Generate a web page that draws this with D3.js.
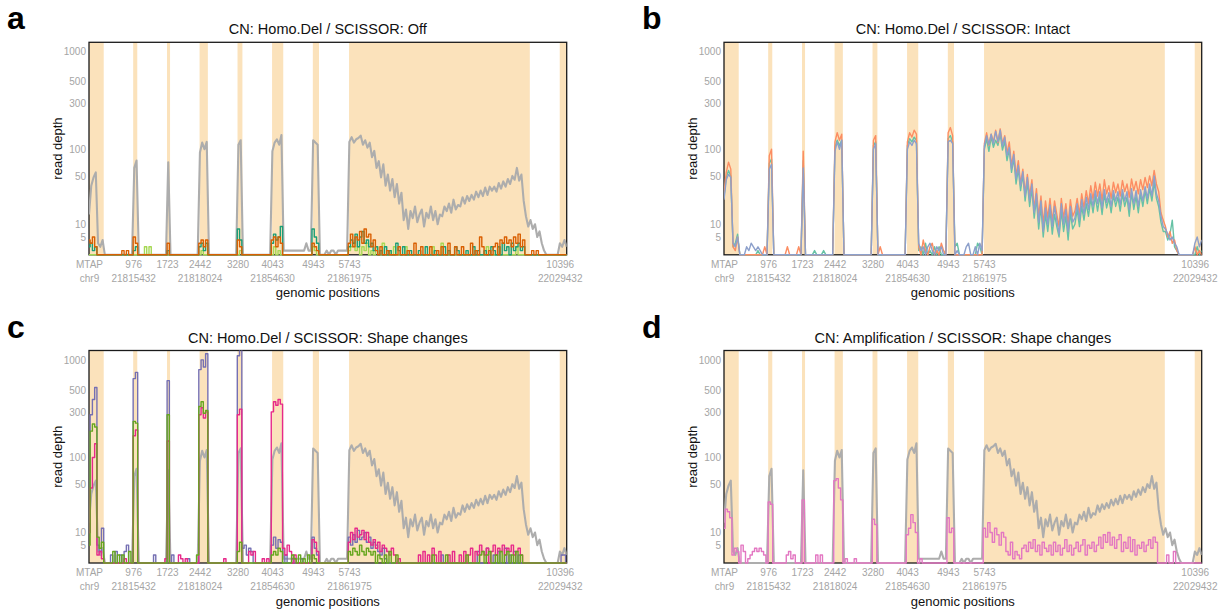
<!DOCTYPE html>
<html><head><meta charset="utf-8">
<script src="https://cdn.jsdelivr.net/npm/d3@7"></script>
<style>
body{margin:0;background:#fff}
svg{display:block;font-family:"Liberation Sans",Arial,Helvetica,sans-serif}
</style>
</head><body>
<svg id="chart" width="1225" height="613"></svg>
<script>
// ---------- data ----------
const STEP = 50; // spacing of read-depth samples along transcript coordinate
const X_MAX = 10550;
const Y_MAX = 1240;
const exonStarts = [0, 976, 1723, 2442, 3280, 4043, 4943, 5743, 10396];
const exonEnds   = [325, 1066, 1790, 2625, 3388, 4290, 5080, 9735, 10550];
const tickPos   = [0, 976, 1723, 2442, 3280, 4043, 4943, 5743, 10396];
const tickLine1 = ["MTAP","976","1723","2442","3280","4043","4943","5743","10396"];
const tickLine2 = ["chr9","21815432","","21818024","","21854630","","21861975","22029432"];
const yTicks = [5, 10, 50, 100, 300, 500, 1000];
const titles = ["CN: Homo.Del / SCISSOR: Off","CN: Homo.Del / SCISSOR: Intact",
                "CN: Homo.Del / SCISSOR: Shape changes","CN: Amplification / SCISSOR: Shape changes"];
const letters = ["a","b","c","d"];

// reference (gray) read depth
const grayDepth = [
 15,38,48,55,3,2,4,
 0,0,0,0,0,0,0,0,0,0,0,0,0,
 62,75,
 0,0,0,0,0,0,0,0,0,0,0,0,0,
 72,
 0,0,0,0,0,0,0,0,0,0,0,0,0,
 92,118,100,120,
 0,0,0,0,0,0,0,0,0,0,0,0,0,
 112,125,
 0,0,0,0,0,0,0,0,0,0,0,0,0,
 95,118,128,112,142,
 1,1,1,1,1,1,1,1,1,1,3,1,1,
 125,118,112,
 0,0,0,1,0,1,1,0,1,1,1,1,1,
 120,135,118,128,132,140,112,125,104,118,
 82,96,62,74,48,68,38,52,33,46,
 27,40,22,31,12,18,8,17,13,20,
 11,15,18,9,16,13,20,12,17,10,
 15,14,20,17,22,16,25,18,21,20,
 27,22,28,24,29,25,32,27,33,28,
 36,29,37,33,37,32,41,35,43,37,
 46,40,50,45,62,44,52,24,14,9,
 12,8,10,5,7,3,1,0,0,0,0,0,0,
 3,2,4,2
];

// panel a series
const offDarkGreen = [
 2,3,1,2,0,0,0,
 0,0,0,0,0,0,0,0,0,0,0,0,0,
 1,2,
 0,0,0,0,0,0,0,0,0,0,0,0,0,
 1,
 0,0,0,0,0,0,0,0,0,0,0,0,0,
 2,3,1,3,
 0,0,0,0,0,0,0,0,0,0,0,0,0,
 8,4,
 0,0,0,0,0,0,0,0,0,0,0,0,0,
 3,6,4,5,9,
 0,0,0,0,0,0,0,0,0,0,0,0,0,
 8,5,3,
 0,0,0,0,0,0,0,0,0,0,0,0,0,
 2,4,3,6,2,5,7,3,4,2,
 3,1,2,0,1,0,2,0,1,0,
 0,3,1,0,2,0,0,1,0,0,
 0,1,0,0,2,0,0,0,1,0,
 0,0,2,0,1,0,0,2,1,0,
 0,0,1,0,0,2,0,1,0,0,
 1,0,0,2,1,0,2,0,3,1,
 2,0,3,1,2,3,1,2,0,0,
 0,0,0,0,0,0,0,0,0,0,0,0,0,
 0,0,0,0
];
const offOrange = [
 4,3,5,2,0,0,0,
 0,0,0,0,0,0,0,0,1,0,1,0,0,
 5,3,
 0,0,0,0,0,0,0,0,0,0,0,0,0,
 3,
 0,0,0,0,0,0,0,0,0,0,0,0,0,
 3,4,2,4,
 0,0,0,0,0,0,0,0,0,0,0,0,0,
 4,2,
 0,0,0,0,0,0,0,0,0,0,0,0,0,
 4,5,2,5,3,
 0,0,0,0,0,0,0,0,0,0,0,0,0,
 3,2,1,
 0,0,0,0,0,0,0,0,0,0,0,0,0,
 3,6,2,5,4,7,3,8,5,6,
 2,4,1,0,2,0,0,1,0,0,
 0,0,2,0,0,0,1,0,0,3,
 0,0,2,0,0,0,2,0,0,1,
 0,2,0,0,3,0,0,2,0,0,
 2,0,0,0,3,0,1,0,5,2,
 0,0,1,0,2,3,0,4,3,5,
 3,4,2,5,3,6,2,4,0,0,
 0,1,0,1,0,0,0,0,0,0,0,0,0,
 0,0,0,0
];
const offLightGreen = [
 0,0,0,0,0,0,0,
 0,0,0,0,0,0,0,0,0,0,0,0,0,
 0,0,
 0,0,0,2,0,2,0,0,0,0,0,0,0,
 0,
 0,0,0,0,0,0,0,0,0,0,0,0,0,
 0,1,0,0,
 0,0,0,0,0,0,0,0,0,0,0,0,0,
 0,1,
 0,0,0,0,0,0,0,0,0,0,0,0,0,
 0,2,0,1,0,
 0,0,0,0,0,0,0,0,0,0,0,0,0,
 2,1,0,
 0,0,0,0,0,0,0,0,0,0,0,0,0,
 1,2,3,1,2,0,2,1,3,0,
 1,0,2,0,0,3,0,0,1,0,
 2,0,0,0,0,2,0,0,0,0,
 0,0,0,0,0,0,0,2,0,0,
 0,3,0,0,0,0,0,0,0,0,
 0,0,0,0,0,0,0,0,0,0,
 0,2,0,0,0,0,2,0,0,0,
 0,0,0,0,2,0,0,0,0,0,
 0,0,0,0,0,0,0,0,0,0,0,0,0,
 0,0,0,0
];

// panel b series
const intactOrange = [
 30,55,72,60,2,1,5,
 0,0,0,0,0,0,0,0,0,0,0,2,0,
 85,100,
 0,0,0,0,0,0,2,0,0,0,0,2,0,
 95,
 0,0,0,0,0,0,0,0,0,0,0,0,0,
 120,150,125,145,
 0,0,0,0,0,0,0,0,0,0,0,0,0,
 125,140,
 0,2,0,0,0,0,0,0,0,0,0,0,0,
 120,150,135,160,145,
 2,0,4,1,0,2,3,0,1,0,3,1,0,
 150,170,140,
 0,0,0,0,0,0,0,0,0,0,0,0,0,
 115,150,110,145,120,160,118,165,115,140,
 90,120,65,95,50,75,40,60,30,52,
 28,45,18,35,14,28,10,24,13,26,
 11,24,15,9,26,13,22,10,25,14,
 17,26,15,30,19,33,22,38,25,42,
 28,40,24,45,30,38,26,42,31,40,
 28,44,32,40,27,46,33,43,30,45,
 34,48,36,50,38,58,40,32,16,12,
 9,5,7,3,4,1,0,0,0,0,0,0,0,
 2,0,1,0
];
const intactGreen = [
 28,48,58,50,2,3,6,
 0,0,0,0,0,0,0,0,1,0,0,0,0,
 70,78,
 0,0,0,0,0,0,0,0,0,0,0,0,0,
 75,
 0,0,0,0,1,0,0,0,1,0,0,0,0,
 105,125,110,125,
 0,0,0,0,0,0,0,0,0,0,0,0,0,
 110,120,
 0,0,0,0,0,0,0,0,0,0,0,0,0,
 110,130,120,135,125,
 1,2,0,3,0,1,0,2,0,2,0,0,1,
 130,140,120,
 2,3,0,0,0,0,0,0,0,0,3,2,0,
 100,130,95,135,105,125,110,145,98,122,
 75,100,55,80,40,60,33,52,24,42,
 20,35,13,26,8,20,5,15,7,18,
 6,15,9,5,17,7,14,4,16,8,
 10,18,9,20,12,22,14,26,16,28,
 17,28,15,30,19,26,16,29,20,27,
 17,30,20,27,14,31,18,28,16,30,
 20,33,22,35,24,42,26,20,11,7,
 7,4,6,12,2,1,0,0,0,0,0,0,0,
 0,2,0,1
];
const intactBlue = [
 25,45,52,48,3,2,5,
 0,0,0,2,1,3,2,1,2,1,0,0,0,
 60,68,
 0,0,0,0,0,0,0,0,0,0,0,0,0,
 62,
 0,0,0,0,0,0,0,0,0,0,0,0,0,
 95,120,100,125,
 0,0,0,0,0,0,0,0,0,0,0,0,0,
 100,115,
 0,0,0,0,0,0,0,0,0,0,0,0,0,
 100,120,110,125,115,
 3,1,2,0,2,3,1,0,2,1,2,0,0,
 120,125,115,
 0,1,0,0,0,2,3,0,0,2,0,3,1,
 108,140,112,145,115,155,120,160,108,135,
 85,105,60,88,46,66,38,56,28,48,
 24,40,16,30,11,24,7,19,10,21,
 9,20,12,6,22,10,18,7,20,11,
 13,22,12,25,15,27,18,30,20,33,
 22,32,19,34,23,31,20,33,24,32,
 21,34,24,32,18,35,22,33,20,34,
 24,37,26,40,28,50,30,24,14,9,
 8,6,4,5,3,2,0,0,0,0,0,0,0,
 3,5,2,4
];

// panel c series
const shapePurple = [
 10,280,400,530,5,3,12,
 0,0,0,2,0,3,0,2,0,3,5,0,0,
 650,750,
 0,0,0,0,0,0,0,2,0,0,0,0,0,
 620,
 0,2,0,0,0,0,0,0,1,0,0,0,0,
 800,1000,850,1150,
 0,0,0,0,0,0,0,0,0,0,0,0,0,
 1100,1300,
 4,5,2,4,3,0,0,0,0,0,0,0,0,
 5,8,4,7,6,
 0,2,0,0,1,0,0,0,1,0,0,0,0,
 8,4,2,
 0,0,0,0,0,0,0,0,0,0,0,0,0,
 8,5,9,6,11,7,8,10,6,8,
 4,6,5,3,2,4,1,0,0,0,
 0,0,0,0,0,0,0,0,0,0,
 0,0,0,0,0,0,0,0,0,0,
 0,2,0,0,0,0,0,0,0,0,
 0,0,0,0,0,0,0,3,0,0,
 0,4,0,0,2,0,3,0,0,4,
 0,2,0,3,0,2,0,0,0,0,
 0,0,0,0,0,0,0,0,0,0,0,0,0,
 0,2,2,0
];
const shapeMagenta = [
 10,45,100,140,2,3,1,
 0,0,0,0,0,0,0,0,0,1,0,0,0,
 170,195,
 0,0,0,0,0,0,0,0,0,0,0,0,1,
 150,
 0,0,0,0,2,1,0,1,0,0,0,0,0,
 280,330,260,300,
 0,0,0,0,0,0,0,1,0,0,0,0,0,
 280,320,
 0,0,0,3,2,3,0,0,0,1,0,1,0,
 300,380,350,400,360,
 4,2,5,3,0,2,0,0,0,0,0,0,0,
 7,6,3,
 0,0,0,0,0,0,0,0,0,0,0,0,0,
 6,10,7,12,8,9,11,7,10,6,
 5,7,4,6,3,5,4,3,2,4,
 2,0,1,0,0,0,0,0,0,0,
 0,2,0,3,0,2,0,4,2,0,
 3,0,0,0,2,0,3,0,0,2,
 0,3,0,2,4,0,3,2,5,3,
 2,4,0,3,5,2,4,3,5,2,
 4,3,5,2,3,4,2,0,0,0,
 0,0,0,0,0,0,0,0,0,0,0,0,0,
 0,0,0,0
];
const shapeGreen = [
 5,190,225,210,8,4,6,
 0,0,0,0,3,0,2,0,2,0,0,3,0,
 240,230,
 0,0,0,0,0,0,0,0,0,0,0,0,0,
 280,
 0,0,0,0,0,0,0,0,0,0,0,0,2,
 340,380,290,310,
 0,0,0,0,0,0,0,0,0,0,0,0,0,
 3,6,
 0,0,0,0,0,0,0,0,0,0,0,0,0,
 2,3,2,4,3,
 0,0,0,0,2,1,0,2,0,1,0,2,0,
 2,1,0,
 0,0,0,0,0,0,0,0,0,0,0,0,0,
 3,2,4,3,2,5,3,2,4,3,
 2,3,0,2,1,0,2,0,3,0,
 0,2,0,0,0,0,0,0,0,0,
 0,0,0,0,0,0,0,2,0,0,
 0,0,0,2,0,0,0,0,0,0,
 0,0,2,0,0,0,0,0,2,3,
 0,2,3,0,0,2,0,3,0,2,
 3,0,2,0,3,0,2,0,0,0,
 0,0,0,0,0,0,0,0,0,0,0,0,0,
 0,0,0,0
];

// panel d series
const ampPink = [
 12,24,22,18,2,4,3,
 0,5,3,0,1,2,3,4,3,4,3,2,0,
 30,28,
 0,0,0,0,0,0,2,3,1,2,0,0,0,
 32,
 0,0,0,0,0,2,0,2,0,0,0,0,0,
 55,58,45,32,
 0,1,0,0,0,1,0,0,0,0,0,0,0,
 17,14,
 0,0,0,0,0,0,0,0,0,0,0,0,0,
 9,12,20,15,10,
 0,1,0,0,0,0,0,0,0,0,0,0,0,
 18,10,12,
 0,0,0,0,0,0,0,0,0,0,0,0,0,
 12,8,15,10,6,12,9,5,10,8,
 3,2,6,1,3,2,1,4,5,3,
 6,4,7,3,5,2,6,4,3,5,
 2,6,3,5,2,4,7,3,5,2,
 4,6,3,5,7,2,5,4,6,3,
 5,8,4,9,6,10,5,8,4,7,
 9,3,6,4,8,3,7,2,5,4,
 6,3,5,7,4,8,6,0,0,0,
 0,2,0,0,3,0,0,0,0,0,0,0,0,
 0,0,0,0
];

// ---------- drawing ----------
const PW = 477.7, PH = 212.5;
const panelPos = [[89, 42.3], [724, 42.3], [89, 350.5], [724, 350.5]];
// [values, colour, width, curve]
const panelSeries = [
  [[grayDepth,"#adadad",2.1,"lin"],[offLightGreen,"#a6d854",1.4,"step"],[offDarkGreen,"#1b9e77",1.4,"step"],[offOrange,"#d95f02",1.4,"step"]],
  [[intactGreen,"#66c2a5",1.4,"lin"],[intactOrange,"#fc8d62",1.4,"lin"],[intactBlue,"#8da0cb",1.4,"lin"]],
  [[grayDepth,"#adadad",2.1,"lin"],[shapePurple,"#7570b3",1.4,"step"],[shapeMagenta,"#e7298a",1.4,"step"],[shapeGreen,"#66a61e",1.4,"step"]],
  [[grayDepth,"#adadad",2.1,"lin"],[ampPink,"#e377c2",1.4,"step"]]
];

const svg = d3.select("#chart");
const positions = d3.range(grayDepth.length).map(i => i * STEP);
const exons = exonStarts.map((s, i) => [s, exonEnds[i]]);
const tickColor = "#a5a5a5";

panelPos.forEach(([x0, y0], pi) => {
  const x = d3.scaleLinear().domain([0, X_MAX]).range([x0, x0 + PW]);
  const y = d3.scaleSymlog().constant(10).domain([0, Y_MAX]).range([y0 + PH, y0]);
  const g = svg.append("g");

  g.selectAll("rect.exon").data(exons).join("rect")
    .attr("class","exon")
    .attr("x", d => x(d[0])).attr("width", d => x(d[1]) - x(d[0]))
    .attr("y", y0).attr("height", PH)
    .attr("fill", "#fbe2bb");

  g.append("rect").attr("x", x0).attr("y", y0).attr("width", PW).attr("height", PH)
    .attr("fill", "none").attr("stroke", "#1a1a1a").attr("stroke-width", 1.3);

  const cid = "clip" + pi;
  svg.append("clipPath").attr("id", cid).append("rect")
    .attr("x", x0).attr("y", y0).attr("width", PW).attr("height", PH + 1.5);

  const lg = g.append("g").attr("clip-path", `url(#${cid})`);
  panelSeries[pi].forEach(([vals, color, w, c]) => {
    const line = d3.line().x((d, i) => x(positions[i])).y(d => y(d))
      .curve(c === "step" ? d3.curveStep : d3.curveLinear);
    lg.append("path").datum(vals).attr("d", line)
      .attr("fill", "none").attr("stroke", color).attr("stroke-width", w)
      .attr("stroke-linejoin", "round");
  });

  const ya = g.append("g").attr("transform", `translate(${x0},0)`)
    .call(d3.axisLeft(y).tickValues(yTicks).tickSize(0).tickPadding(3).tickFormat(d3.format("d")));
  ya.select(".domain").remove();
  ya.selectAll("text").attr("fill", tickColor).attr("font-size", 10)
    .attr("font-family", '"Liberation Sans",Arial,sans-serif');

  const xa = g.append("g").attr("transform", `translate(0,${y0 + PH})`)
    .call(d3.axisBottom(x).tickValues(tickPos).tickSize(0));
  xa.select(".domain").remove();
  xa.selectAll(".tick text").each(function(d, i) {
    const t = d3.select(this);
    t.text(null).attr("y", 0).attr("dy", null)
      .attr("fill", tickColor).attr("font-size", 10)
      .attr("font-family", '"Liberation Sans",Arial,sans-serif');
    t.append("tspan").attr("x", 0).attr("y", 12.8).text(tickLine1[i]);
    if (tickLine2[i]) t.append("tspan").attr("x", 0).attr("y", 27).text(tickLine2[i]);
  });

  const cx = x0 + PW / 2;
  g.append("text").attr("x", cx).attr("y", y0 + PH + 42.5).attr("text-anchor", "middle")
    .attr("font-size", 13).attr("fill", "#111").text("genomic positions");
  g.append("text").attr("transform", `translate(${x0 - 27},${y0 + PH / 2}) rotate(-90)`)
    .attr("text-anchor", "middle").attr("font-size", 13).attr("fill", "#111").text("read depth");
  g.append("text").attr("x", cx).attr("y", y0 - 8).attr("text-anchor", "middle")
    .attr("font-size", 14.5).attr("fill", "#111").text(titles[pi]);
  g.append("text").attr("x", x0 - 82).attr("y", y0 - 13)
    .attr("font-size", 32).attr("font-weight", "bold").attr("fill", "#000").text(letters[pi]);
});
</script>
</body></html>
